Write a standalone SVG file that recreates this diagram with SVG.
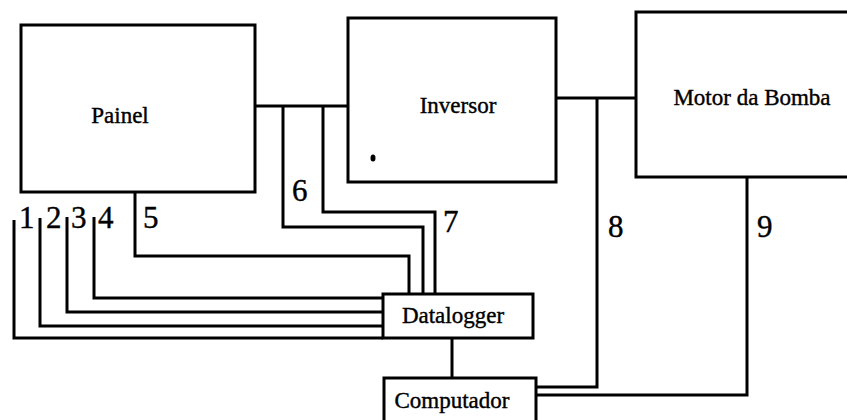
<svg xmlns="http://www.w3.org/2000/svg" width="847" height="420" viewBox="0 0 847 420">
<style>
.box{fill:#fff;stroke:#000;stroke-width:3}
.w{fill:none;stroke:#000;stroke-width:3;stroke-linejoin:miter}
text{font-family:'Liberation Serif','DejaVu Serif',serif;fill:#000;stroke:#000;stroke-width:0.4}
.lbl{font-size:23px;text-anchor:middle}
.num{font-size:31px}
</style>
<rect width="847" height="420" fill="#fff"/>
<g id="connectors">
<polyline class="w" points="255,106 348,106"/>
<polyline class="w" points="556,98 636,98"/>
<polyline class="w" points="135,192 135,256 409,256 409,294"/>
<polyline class="w" points="283,106 283,227 423,227 423,294"/>
<polyline class="w" points="323,106 323,212 435,212 435,294"/>
<polyline class="w" points="14,220 14,338 383,338"/>
<polyline class="w" points="40,218 40,326 383,326"/>
<polyline class="w" points="67,217 67,312 383,312"/>
<polyline class="w" points="94,217 94,298 383,298"/>
<polyline class="w" points="597,98 597,387 536,387"/>
<polyline class="w" points="747,177 747,395 536,395"/>
<polyline class="w" points="452,338 452,378"/>
</g>
<g id="painel">
<rect class="box" x="21" y="25" width="234" height="167"/>
<text class="lbl" x="120" y="123">Painel</text>
</g>
<g id="inversor">
<rect class="box" x="348" y="18" width="208" height="164"/>
<text class="lbl" x="458" y="113">Inversor</text>
<ellipse cx="373" cy="158" rx="2.5" ry="3.5" fill="#000"/>
</g>
<g id="motor">
<rect class="box" x="636" y="12" width="230" height="165"/>
<text class="lbl" x="752" y="105">Motor da Bomba</text>
</g>
<g id="datalogger">
<rect class="box" x="383" y="294" width="150" height="44"/>
<text class="lbl" x="453" y="323">Datalogger</text>
</g>
<g id="computador">
<rect class="box" x="384" y="378" width="152" height="50"/>
<text class="lbl" x="452" y="408">Computador</text>
</g>
<g id="labels">
<text class="num" x="19" y="228">1</text>
<text class="num" x="46" y="228">2</text>
<text class="num" x="71" y="228">3</text>
<text class="num" x="98" y="228">4</text>
<text class="num" x="143" y="228">5</text>
<text class="num" x="292" y="201">6</text>
<text class="num" x="443" y="232">7</text>
<text class="num" x="608" y="237">8</text>
<text class="num" x="757" y="237">9</text>
</g>
</svg>
